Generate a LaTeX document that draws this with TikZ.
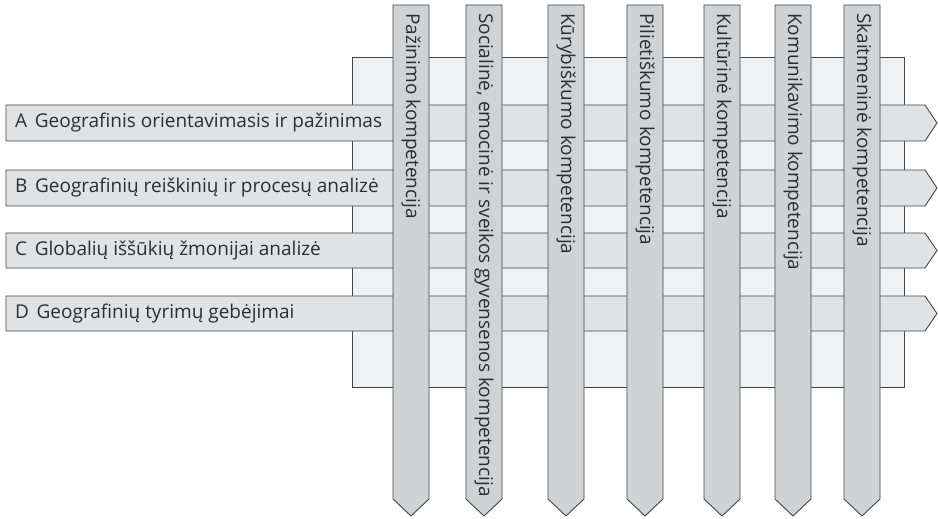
\documentclass[tikz,border=0pt]{standalone}
\usepackage{fontspec}
\setmainfont{Open Sans}
\usepackage{tikz}
\definecolor{backfill}{HTML}{F0F1F3}
\definecolor{rowfill}{HTML}{E1E2E4}
\definecolor{colfill}{HTML}{D1D2D4}
\definecolor{edgegray}{HTML}{454545}
\definecolor{textgray}{HTML}{2E2E2E}
\def\rowarrow(#1:#2){\draw[rowbox] (6, #1) -- (925, #1) -- (937, {(#1+#2)/2}) -- (925, #2) -- (6, #2) -- cycle;}
\def\colarrow(#1:#2){\draw[colbox] (#1, 5) -- (#2, 5) -- (#2, 499) -- ({(#1+#2)/2}, 516) -- (#1, 499) -- cycle;}
\def\gap{\hskip 0.4em}

\begin{document}
\begin{tikzpicture}[x=1pt, y=-1pt,
	rowbox/.style={draw=edgegray, line width=0.9pt, fill=rowfill, line join=miter},
	colbox/.style={draw=edgegray, line width=0.9pt, fill=colfill, line join=miter},
	rowtext/.style={anchor=west, inner sep=0pt, text=textgray, font=\fontsize{19}{22}\selectfont},
	coltext/.style={rowtext, rotate=-90}]
			%%%%% START %%%%%
			
			\useasboundingbox (0, 0) rectangle (938, 519);
			
			\draw[draw=edgegray, line width=0.9pt, fill=backfill] (352, 57) rectangle (904, 387);
			
			\rowarrow(105:141)
			\rowarrow(170:206)
			\rowarrow(233:268)
			\rowarrow(296:331)
			
			\node[rowtext] (rowA) at (15, 123) {A\gap Geografinis orientavimasis ir pažinimas};
			\node[rowtext] (rowB) at (15, 188) {B\gap Geografinių reiškinių ir procesų analizė};
			\node[rowtext] (rowC) at (15, 250.5) {C\gap Globalių iššūkių žmonijai analizė};
			\node[rowtext] (rowD) at (15, 313.5) {D\gap Geografinių tyrimų gebėjimai};
			
			\colarrow(393:429)
			\colarrow(466:502)
			\colarrow(548:584)
			\colarrow(627:663)
			\colarrow(704:740)
			\colarrow(775:811)
			\colarrow(844:880)
			
			\node[coltext] (colPaz) at (411, 13) {Pažinimo kompetencija};
			\node[coltext] (colSoc) at (484, 13) {Socialinė, emocinė ir sveikos gyvensenos kompetencija};
			\node[coltext] (colKur) at (566, 13) {Kūrybiškumo kompetencija};
			\node[coltext] (colPil) at (645, 13) {Pilietiškumo kompetencija};
			\node[coltext] (colKul) at (722, 13) {Kultūrinė kompetencija};
			\node[coltext] (colKom) at (793, 13) {Komunikavimo kompetencija};
			\node[coltext] (colSka) at (862, 13) {Skaitmeninė kompetencija};
			
			%%%%% END %%%%%
\end{tikzpicture}
\end{document}
